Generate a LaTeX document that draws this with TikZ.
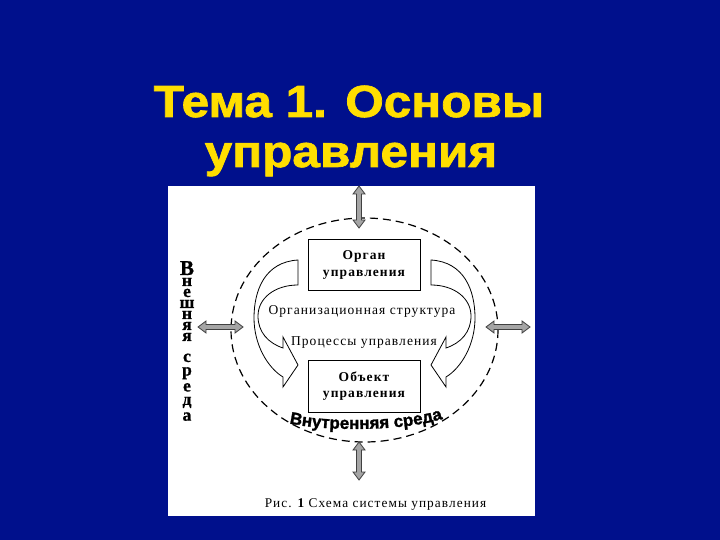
\documentclass[tikz,border=0pt]{standalone}
\usepackage{fontspec}
\setmainfont{Liberation Serif}
\newfontfamily\titlefont[FakeBold=1.5]{Liberation Sans Bold}
\newfontfamily\heavysans[FakeBold=1.5]{Liberation Sans Bold}
\newfontfamily\heavyserif[FakeBold=1]{Liberation Serif Bold}
\newfontfamily\spacedserif[LetterSpace=8]{Liberation Serif}
\usetikzlibrary{decorations.text}
\definecolor{bgblue}{RGB}{0,16,140}
\definecolor{titleyellow}{RGB}{255,222,0}
\definecolor{arrowgray}{RGB}{165,165,165}
\newcommand\DblArrowH[3]{%
  \filldraw[dblarrow] (#1,#3) -- (#1+8,#3-6) -- (#1+8,#3-2.5) -- (#2-8,#3-2.5) -- (#2-8,#3-6)
    -- (#2,#3) -- (#2-8,#3+6) -- (#2-8,#3+2.5) -- (#1+8,#3+2.5) -- (#1+8,#3+6) -- cycle;}
\newcommand\DblArrowV[3]{%
  \filldraw[dblarrow] (#3,#1) -- (#3-6,#1+8) -- (#3-2.5,#1+8) -- (#3-2.5,#2-8) -- (#3-6,#2-8)
    -- (#3,#2) -- (#3+6,#2-8) -- (#3+2.5,#2-8) -- (#3+2.5,#1+8) -- (#3+6,#1+8) -- cycle;}
\newcommand\BigLetterV{\fontsize{21bp}{11bp}\selectfont}
\begin{document}
\begin{tikzpicture}[x=1bp,y=-1bp,
  titletext/.style={font=\titlefont\fontsize{45bp}{50bp}\selectfont, inner sep=0, anchor=base, text=titleyellow},
  boxnode/.style={draw, line width=1bp, align=center, inner sep=0,
    minimum width=112bp, font=\spacedserif\bfseries\fontsize{13.5bp}{16.5bp}\selectfont},
  plaintext/.style={inner sep=0, anchor=base, font=\spacedserif\fontsize{13.5bp}{16bp}\selectfont},
  dblarrow/.style={fill=arrowgray, draw=black!75, line width=0.8bp},
  bandarrow/.style={fill=white, draw=black, line width=0.8bp},
  vtext/.style={inner sep=0, anchor=north, align=center,
    font=\heavyserif\fontsize{17.5bp}{11bp}\selectfont}]
\fill[bgblue] (0,0) rectangle (720,540);
\useasboundingbox (0,0) rectangle (720,540);
% title
\node[titletext] (t1) at (349,117) {\scalebox{1.1}[1]{Тема 1. Основы}};
\node[titletext] (t2) at (351,167) {\scalebox{1.1}[1]{управления}};
% white panel
\fill[white] (168,186) rectangle (535,516);
% dashed ellipse
\draw[dash pattern=on 8bp off 5bp, line width=1.2bp] (364.5,330) ellipse [x radius=133.5, y radius=112];
% curved band arrows
\filldraw[bandarrow] (298,260) .. controls (265,262) and (254,290) .. (254,318)
  .. controls (254,345) and (268,368) .. (283,377) -- (283,387) -- (298,365) -- (283,337) -- (283,348)
  .. controls (268,343) and (258,332) .. (258,316) .. controls (258,298) and (275,285) .. (298,285) -- cycle;
\begin{scope}[shift={(729,0)}, xscale=-1]
\filldraw[bandarrow] (298,260) .. controls (265,262) and (254,290) .. (254,318)
  .. controls (254,345) and (268,368) .. (283,377) -- (283,387) -- (298,365) -- (283,337) -- (283,348)
  .. controls (268,343) and (258,332) .. (258,316) .. controls (258,298) and (275,285) .. (298,285) -- cycle;
\end{scope}
% boxes
\node[boxnode, minimum height=50bp] (organ) at (364,265) {Орган\\управления};
\node[boxnode, minimum height=52bp] (object) at (364,386) {Объект\\управления};
% texts
\node[plaintext] (orgstr) at (362,314) {Организационная структура};
\node[plaintext] (proc) at (364,345) {Процессы управления};
% inner environment label along arc
\path[decorate, decoration={text along path, text align=center,
  text={|\heavysans\fontsize{17bp}{18bp}\selectfont|Внутренняя среда}}]
  (284,422) .. controls (318,432) and (410,432) .. (448,417);
% double arrows
\DblArrowV{186}{228}{359}
\DblArrowV{442}{480}{359}
\DblArrowH{198}{243}{327}
\DblArrowH{486}{530}{327}
% outer environment vertical text
\node[vtext] (outer) at (187,261) {\lineskiplimit=-100bp\relax {\BigLetterV В}\\н\\е\\ш\\н\\я\\я\\[10bp]с\\[2.5bp]р\\[3bp]е\\[2.5bp]д\\[3.5bp]а};
% caption
\node[plaintext, font=\spacedserif\fontsize{13.3bp}{15bp}\selectfont] (cap) at (375.5,507) {Рис. {\bfseries 1} Схема системы управления};
\end{tikzpicture}
\end{document}
